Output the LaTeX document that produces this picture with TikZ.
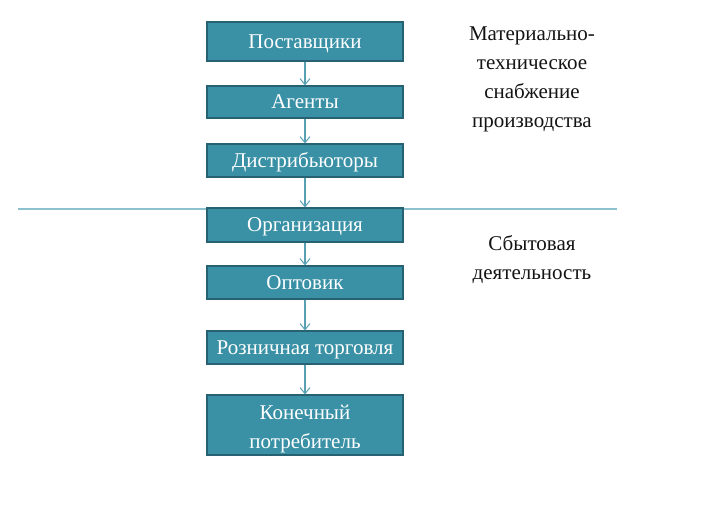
\documentclass[tikz,border=0pt]{standalone}
\usepackage{fontspec}
\setmainfont{Liberation Serif}
\usetikzlibrary{arrows.meta}
\definecolor{boxfill}{RGB}{58,145,165}
\definecolor{boxdraw}{RGB}{38,98,114}
\definecolor{arrowc}{RGB}{90,160,180}
\definecolor{sepc}{RGB}{140,194,208}
\definecolor{txt}{RGB}{20,20,20}
\tikzset{
  stagebox/.style={draw=boxdraw, line width=1.2pt, fill=boxfill, text=white,
    minimum width=196pt, inner sep=0pt, font=\fontsize{21}{29}\selectfont, align=center},
  onerow/.style={text height=16pt, text depth=2pt},
  flow/.style={draw=arrowc, line width=1.1pt, -{Straight Barb[length=6pt,width=10pt,line width=1pt]}},
  sidetext/.style={text=txt, font=\fontsize{21}{29}\selectfont, align=center},
}
\begin{document}
\begin{tikzpicture}[x=1pt,y=1pt]
\useasboundingbox (0,0) rectangle (706,525);
% separator line
\coordinate (sepL) at (18,316);
\coordinate (sepR) at (617,316);
\draw[sepc, line width=1.4pt] (sepL) -- (sepR);
% boxes (y = 525 - pixel y)
\node[stagebox, onerow, minimum height=39pt] (b1) at (305,483.5) {Поставщики};
\node[stagebox, onerow, minimum height=32pt] (b2) at (305,423) {Агенты};
\node[stagebox, onerow, minimum height=33pt] (b3) at (305,364.5) {Дистрибьюторы};
\node[stagebox, onerow, minimum height=34pt] (b4) at (305,300) {Организация};
\node[stagebox, onerow, minimum height=33pt] (b5) at (305,242.5) {Оптовик};
\node[stagebox, onerow, minimum height=33pt] (b6) at (305,177.5) {Розничная торговля};
\node[stagebox, minimum height=60pt] (b7) at (305,100) {\raisebox{-8pt}[0pt][0pt]{\begin{tabular}{@{}c@{}}Конечный\\потребитель\end{tabular}}};
% arrows
\draw[flow] (b1) -- (b2);
\draw[flow] (b2) -- (b3);
\draw[flow] (b3) -- (b4);
\draw[flow] (b4) -- (b5);
\draw[flow] (b5) -- (b6);
\draw[flow] (b6) -- (b7);
% side texts
\node[sidetext] (t1) at (532,446) {Материально-\\техническое\\снабжение\\производства};
\node[sidetext] (t2) at (532,265) {Сбытовая\\деятельность};
\end{tikzpicture}
\end{document}
